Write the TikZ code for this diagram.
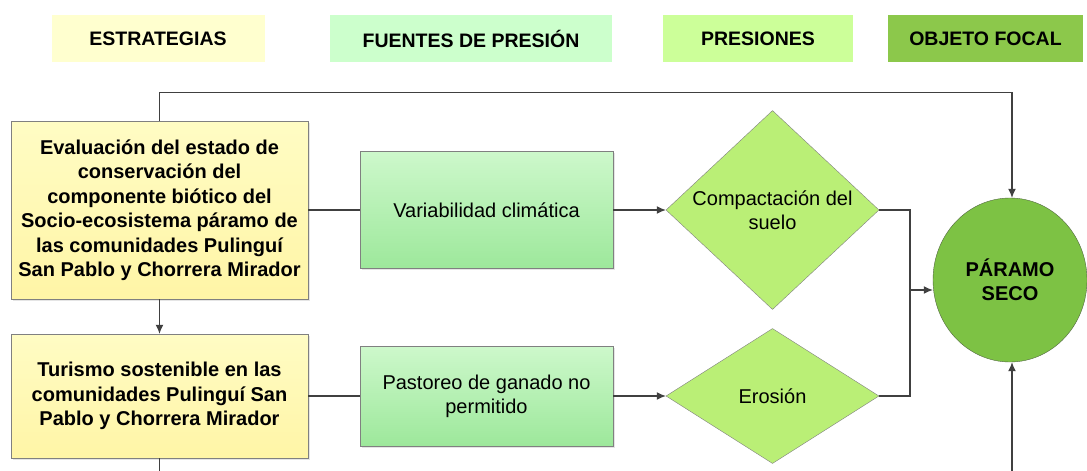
\documentclass[tikz,border=0pt]{standalone}
\usepackage{fontspec}
\setmainfont{Liberation Sans}
\usetikzlibrary{shapes.geometric, arrows.meta, shadows}

\definecolor{hdrEst}{HTML}{FFFFCF}
\definecolor{hdrFue}{HTML}{CCFFCC}
\definecolor{hdrPre}{HTML}{CCFF99}
\definecolor{hdrObj}{HTML}{8CC84B}
\definecolor{yelTop}{HTML}{FFFCC4}
\definecolor{yelBot}{HTML}{FFF5A6}
\definecolor{grnTop}{HTML}{CDF8CB}
\definecolor{grnBot}{HTML}{9DE89B}
\definecolor{limeFill}{HTML}{BAEF76}
\definecolor{focalFill}{HTML}{7DC244}
\definecolor{lineGray}{HTML}{404040}

\begin{document}
\begin{tikzpicture}[x=1pt, y=-1pt,
  hdr/.style={minimum height=47pt, inner sep=0pt, font=\fontsize{19.5}{22}\selectfont\bfseries},
  strat/.style={draw=gray, top color=yelTop, bottom color=yelBot, minimum width=297pt, align=center,
    font=\fontsize{20}{24.5}\selectfont\bfseries, drop shadow={opacity=0.2, shadow xshift=1.5pt, shadow yshift=-1.5pt}},
  fuente/.style={draw=gray, top color=grnTop, bottom color=grnBot, minimum width=253pt, align=center,
    font=\fontsize{20}{24}\selectfont, drop shadow={opacity=0.2, shadow xshift=1.5pt, shadow yshift=-1.5pt}},
  presion/.style={diamond, draw=gray, fill=limeFill, minimum width=213pt, minimum height=135pt,
    inner sep=0pt, align=center, font=\fontsize{20}{24}\selectfont},
  conn/.style={draw=lineGray, line width=1.2pt},
  arr/.style={conn, -{Latex[length=9pt,width=8pt]}}]
  \useasboundingbox[fill=white] (0,0) rectangle (1087,471);

  % encabezados
  \node[hdr, fill=hdrEst, minimum width=213pt] (hEst) at (158,38.5) {ESTRATEGIAS};
  \node[hdr, fill=hdrFue, minimum width=282pt] (hFue) at (471,38.5) {FUENTES DE PRESIÓN};
  \node[hdr, fill=hdrPre, minimum width=190pt] (hPre) at (758,38.5) {PRESIONES};
  \node[hdr, fill=hdrObj, minimum width=195pt] (hObj) at (985.5,38.5) {OBJETO FOCAL};

  % estrategias
  \node[strat, minimum height=178pt] (eval) at (159.5,210) {Evaluación del estado de\\conservación del\\componente biótico del\\Socio-ecosistema páramo de\\las comunidades Pulinguí\\San Pablo y Chorrera Mirador};
  \node[strat, minimum height=124pt] (tur) at (159.5,396) {Turismo sostenible en las\\comunidades Pulinguí San\\Pablo y Chorrera Mirador};

  % fuentes de presion
  \node[fuente, minimum height=117pt] (var) at (486.5,210) {Variabilidad climática};
  \node[fuente, minimum height=100pt] (past) at (486.5,396) {Pastoreo de ganado no\\permitido};

  % presiones
  \node[presion] (comp) at (772.5,210) {Compactación del\\suelo};
  \node[presion] (eros) at (772.5,396) {Erosión};

  % objeto focal
  \node[ellipse, draw=lineGray!70!focalFill, fill=focalFill, minimum width=154pt, minimum height=164pt,
    align=center, font=\fontsize{20}{24}\selectfont\bfseries] (paramo) at (1010,280) {PÁRAMO\\SECO};

  \coordinate (join) at (910,290);
  \coordinate (botL) at (159.5,471);
  \coordinate (botR) at (1012,471);

  \draw[conn] (eval) -- (var);
  \draw[arr] (var) -- (comp);
  \draw[arr] (eval) -- (tur);
  \draw[conn] (tur) -- (past);
  \draw[arr] (past) -- (eros);
  \draw[conn] (comp.east) -| (join);
  \draw[conn] (eros.east) -| (join);
  \draw[arr] (join) -- (join -| paramo.west);
  \draw[arr] (eval.north) -- ++(0,-28) -| ([xshift=2pt]paramo.north);
  \draw[conn] (tur.south) -- (botL);
  \draw[arr] (botR) -- (botR |- paramo.south);
\end{tikzpicture}
\end{document}
